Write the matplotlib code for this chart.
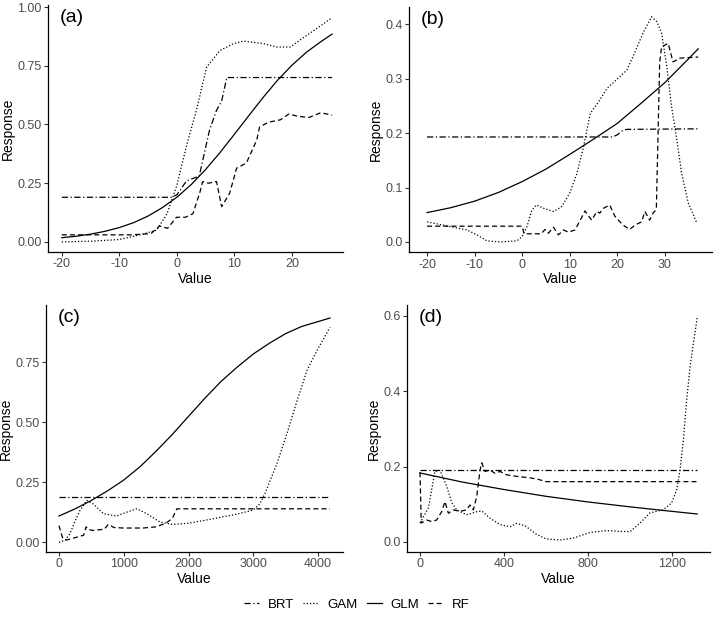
import matplotlib
matplotlib.use("Agg")
import matplotlib.pyplot as plt
from matplotlib.ticker import FormatStrFormatter

plt.rcParams['font.family'] = ['Liberation Sans', 'DejaVu Sans']
plt.rcParams['axes.unicode_minus'] = False

models = ["BRT", "GAM", "GLM", "RF"]
styles = {"BRT": (0, (5, 2, 1, 2)), "GAM": (0, (1, 1.6)), "GLM": "-", "RF": (0, (4, 2.5))}

# panel (a)
a_glm_x = [-20, -17.5, -15, -12.5, -10, -7.5, -5, -2.5, 0, 2.5, 5, 7.5, 10, 12.5, 15, 17.5, 20, 22.5, 25, 27]
a_glm_y = [0.018, 0.024, 0.033, 0.045, 0.061, 0.082, 0.110, 0.146, 0.190, 0.244, 0.308, 0.380, 0.458, 0.537,
           0.615, 0.688, 0.752, 0.807, 0.852, 0.885]
a_gam_x = [-20, -15, -10, -6.4, -3.5, -1.7, 0, 0.5, 1.7, 3.4, 5.2, 7.5, 9.9, 11.6, 15, 17.4, 19.7, 22.6, 25, 27]
a_gam_y = [0.0, 0.003, 0.01, 0.03, 0.05, 0.12, 0.24, 0.29, 0.41, 0.56, 0.745, 0.815, 0.845, 0.855, 0.845, 0.83,
           0.83, 0.88, 0.92, 0.955]
a_brt_x = [-20, -1, 0, 1.7, 3.9, 4.9, 5.7, 6.9, 7.8, 8.7, 27]
a_brt_y = [0.19, 0.19, 0.2, 0.26, 0.28, 0.39, 0.477, 0.56, 0.6, 0.70, 0.70]
a_rf_x = [-20, -8, -4.5, -3, -1.6, -0.05, 1.5, 2.8, 4, 4.5, 5.5, 6.9, 7.8, 9.2, 10.4, 12.1, 13.9, 14.4, 16, 18,
          19.5, 21, 23, 25, 27]
a_rf_y = [0.03, 0.03, 0.035, 0.068, 0.058, 0.105, 0.105, 0.12, 0.21, 0.257, 0.25, 0.257, 0.15, 0.208, 0.314,
          0.336, 0.434, 0.49, 0.51, 0.52, 0.545, 0.535, 0.53, 0.55, 0.54]

# panel (b)
b_glm_x = [-20, -15, -10, -5, 0, 5, 10, 15, 20, 25, 30, 35, 37]
b_glm_y = [0.054, 0.063, 0.075, 0.091, 0.111, 0.134, 0.161, 0.189, 0.218, 0.255, 0.293, 0.337, 0.355]
b_gam_x = [-20, -15, -11.6, -9.5, -7.4, -4.6, -1.1, 0, 1, 2, 3, 4.5, 6.6, 8.3, 10, 11.5, 12.9, 14.3, 16.3, 17.8,
           19.8, 22, 23.3, 25.4, 27.2, 28.3, 29.3, 30.4, 31.4, 32.5, 33.5, 34.9, 36.7]
b_gam_y = [0.037, 0.028, 0.022, 0.013, 0.002, 0.0, 0.002, 0.01, 0.028, 0.058, 0.068, 0.062, 0.056, 0.065, 0.09,
           0.126, 0.175, 0.236, 0.261, 0.282, 0.298, 0.316, 0.341, 0.384, 0.414, 0.405, 0.384, 0.322, 0.249,
           0.188, 0.127, 0.072, 0.035]
b_brt_x = [-20, 19, 20, 21, 22, 37]
b_brt_y = [0.193, 0.193, 0.197, 0.204, 0.207, 0.208]
b_rf_x = [-20, 0, 0.4, 4, 4.8, 5.5, 6.6, 7.6, 8.7, 9.7, 11.1, 12.2, 13.2, 14.6, 15.7, 16.3, 17.1, 18.4, 19.5,
          21.2, 22.6, 23.7, 25.1, 25.8, 26.8, 27.5, 28.2, 28.9, 29.3, 30.7, 31.7, 33.2, 37]
b_rf_y = [0.029, 0.029, 0.015, 0.015, 0.023, 0.016, 0.027, 0.013, 0.022, 0.018, 0.022, 0.04, 0.057, 0.04, 0.056,
          0.053, 0.062, 0.068, 0.047, 0.031, 0.023, 0.031, 0.037, 0.056, 0.04, 0.053, 0.06, 0.33, 0.359, 0.365,
          0.331, 0.338, 0.34]

# panel (c)
c_glm_x = [0, 250, 500, 750, 1000, 1250, 1500, 1750, 2000, 2250, 2500, 2750, 3000, 3250, 3500, 3750, 4000, 4185]
c_glm_y = [0.11, 0.14, 0.175, 0.215, 0.26, 0.315, 0.38, 0.45, 0.525, 0.60, 0.67, 0.73, 0.785, 0.83, 0.87, 0.9,
           0.92, 0.935]
c_gam_x = [0, 100, 170, 250, 324, 428, 530, 685, 891, 1046, 1200, 1354, 1560, 1750, 2000, 2250, 2500, 2750, 3000,
           3100, 3181, 3367, 3521, 3676, 3830, 3985, 4185]
c_gam_y = [0.0, 0.01, 0.037, 0.09, 0.133, 0.175, 0.16, 0.12, 0.11, 0.126, 0.14, 0.12, 0.085, 0.075, 0.08, 0.092,
           0.105, 0.118, 0.135, 0.16, 0.204, 0.329, 0.454, 0.59, 0.717, 0.80, 0.896]
c_brt_x = [0, 4185]
c_brt_y = [0.19, 0.19]
c_rf_x = [0, 60, 120, 250, 380, 420, 440, 520, 700, 760, 850, 1000, 1300, 1500, 1650, 1750, 1820, 4185]
c_rf_y = [0.07, 0.015, 0.01, 0.02, 0.03, 0.065, 0.055, 0.05, 0.055, 0.075, 0.062, 0.06, 0.06, 0.065, 0.08, 0.1,
          0.14, 0.14]

# panel (d)
d_glm_x = [0, 200, 400, 600, 800, 1000, 1200, 1320]
d_glm_y = [0.183, 0.159, 0.139, 0.121, 0.106, 0.093, 0.081, 0.074]
d_gam_x = [0, 40, 56, 71, 95, 127, 151, 175, 222, 270, 294, 333, 381, 429, 460, 500, 555, 600, 667, 730, 810, 889,
           950, 1000, 1048, 1095, 1157, 1198, 1222, 1238, 1254, 1270, 1286, 1302, 1320]
d_gam_y = [0.05, 0.09, 0.14, 0.187, 0.19, 0.148, 0.104, 0.085, 0.072, 0.08, 0.082, 0.063, 0.046, 0.04, 0.049,
           0.043, 0.02, 0.008, 0.005, 0.01, 0.025, 0.03, 0.028, 0.027, 0.05, 0.077, 0.085, 0.103, 0.138, 0.19,
           0.27, 0.377, 0.465, 0.528, 0.595]
d_brt_x = [0, 1320]
d_brt_y = [0.192, 0.192]
d_rf_x = [0, 6, 32, 55, 79, 103, 119, 135, 159, 190, 222, 238, 254, 270, 286, 294, 310, 333, 357, 381, 413, 460,
          524, 563, 600, 1320]
d_rf_y = [0.185, 0.05, 0.058, 0.054, 0.058, 0.08, 0.107, 0.076, 0.085, 0.081, 0.085, 0.098, 0.085, 0.12, 0.191,
          0.21, 0.187, 0.191, 0.182, 0.187, 0.178, 0.174, 0.17, 0.166, 0.16, 0.16]

panels = [
    ("(a)", [0.0672, 0.5916, 0.4132, 0.4003], (-22.4, 28.9), (-0.043, 1.009),
     [-20, -10, 0, 10, 20], [0, 0.25, 0.5, 0.75, 1.0], "%.2f",
     {"BRT": (a_brt_x, a_brt_y), "GAM": (a_gam_x, a_gam_y), "GLM": (a_glm_x, a_glm_y), "RF": (a_rf_x, a_rf_y)}),
    ("(b)", [0.5728, 0.5911, 0.4244, 0.3976], (-23.8, 39.9), (-0.019, 0.432),
     [-20, -10, 0, 10, 20, 30], [0, 0.1, 0.2, 0.3, 0.4], "%.1f",
     {"BRT": (b_brt_x, b_brt_y), "GAM": (b_gam_x, b_gam_y), "GLM": (b_glm_x, b_glm_y), "RF": (b_rf_x, b_rf_y)}),
    ("(c)", [0.0644, 0.1053, 0.4160, 0.4003], (-201, 4386), (-0.04, 0.989),
     [0, 1000, 2000, 3000, 4000], [0, 0.25, 0.5, 0.75], "%.2f",
     {"BRT": (c_brt_x, c_brt_y), "GAM": (c_gam_x, c_gam_y), "GLM": (c_glm_x, c_glm_y), "RF": (c_rf_x, c_rf_y)}),
    ("(d)", [0.5700, 0.1053, 0.4244, 0.4003], (-62, 1381), (-0.027, 0.629),
     [0, 400, 800, 1200], [0, 0.2, 0.4, 0.6], "%.1f",
     {"BRT": (d_brt_x, d_brt_y), "GAM": (d_gam_x, d_gam_y), "GLM": (d_glm_x, d_glm_y), "RF": (d_rf_x, d_rf_y)}),
]

fig = plt.figure(figsize=(7.14, 6.17), dpi=100)

handles = []
for label, pos, xlim, ylim, xt, yt, fmt, series in panels:
    ax = fig.add_axes(pos)
    handles = []
    for m in models:
        x, y = series[m]
        h, = ax.plot(x, y, color="black", lw=0.9, linestyle=styles[m], label=m)
        handles.append(h)
    ax.set_xlim(*xlim)
    ax.set_ylim(*ylim)
    ax.set_xticks(xt)
    ax.set_yticks(yt)
    ax.yaxis.set_major_formatter(FormatStrFormatter(fmt))
    for s in ["top", "right"]:
        ax.spines[s].set_visible(False)
    for s in ["left", "bottom"]:
        ax.spines[s].set_linewidth(0.9)
    ax.tick_params(labelsize=9, labelcolor="#4D4D4D", color="#333333", length=3, width=0.8, pad=1.5)
    ax.set_xlabel("Value", fontsize=10, labelpad=1)
    ax.set_ylabel("Response", fontsize=10, labelpad=1.5)
    ax.text(0.04, 0.985, label, transform=ax.transAxes, fontsize=14, ha="left", va="top")

fig.legend(handles=handles, labels=models, loc="center", bbox_to_anchor=(0.5, 0.02), ncol=4,
           frameon=False, fontsize=9.5, handlelength=1.15, handletextpad=0.65, columnspacing=0.7)

fig.savefig("out.png", dpi=100)
